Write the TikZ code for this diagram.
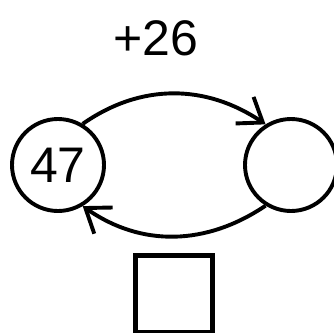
\documentclass[tikz,border=0pt]{standalone}
\usepackage{fontspec}
\setmainfont{Liberation Sans}
\usetikzlibrary{arrows.meta}

\begin{document}
\begin{tikzpicture}[x=1pt, y=-1pt, line width=3.9pt,
                    main node/.style={circle,draw,minimum size=92pt,inner sep=0pt,font=\fontsize{50}{60}\selectfont},
                    box node/.style={rectangle,draw,minimum size=77pt,line width=4.5pt},
                    barb/.style={-{Straight Barb[length=22pt,width=32pt]}}]
  \useasboundingbox (0,0) rectangle (334,332);

  \node[main node] (47) at (58,165) {47};
  \node[main node] (sum) at (291,165) {};
  \node[font=\fontsize{50}{60}\selectfont] (step) at (156,38) {+26};
  \node[box node] (answer) at (174,294) {};

  \draw[barb] (47.59) to[out=35,in=146] (sum.122);
  \draw[barb] (sum.-122) to[out=-146,in=-35] (47.-59);

\end{tikzpicture}
\end{document}
